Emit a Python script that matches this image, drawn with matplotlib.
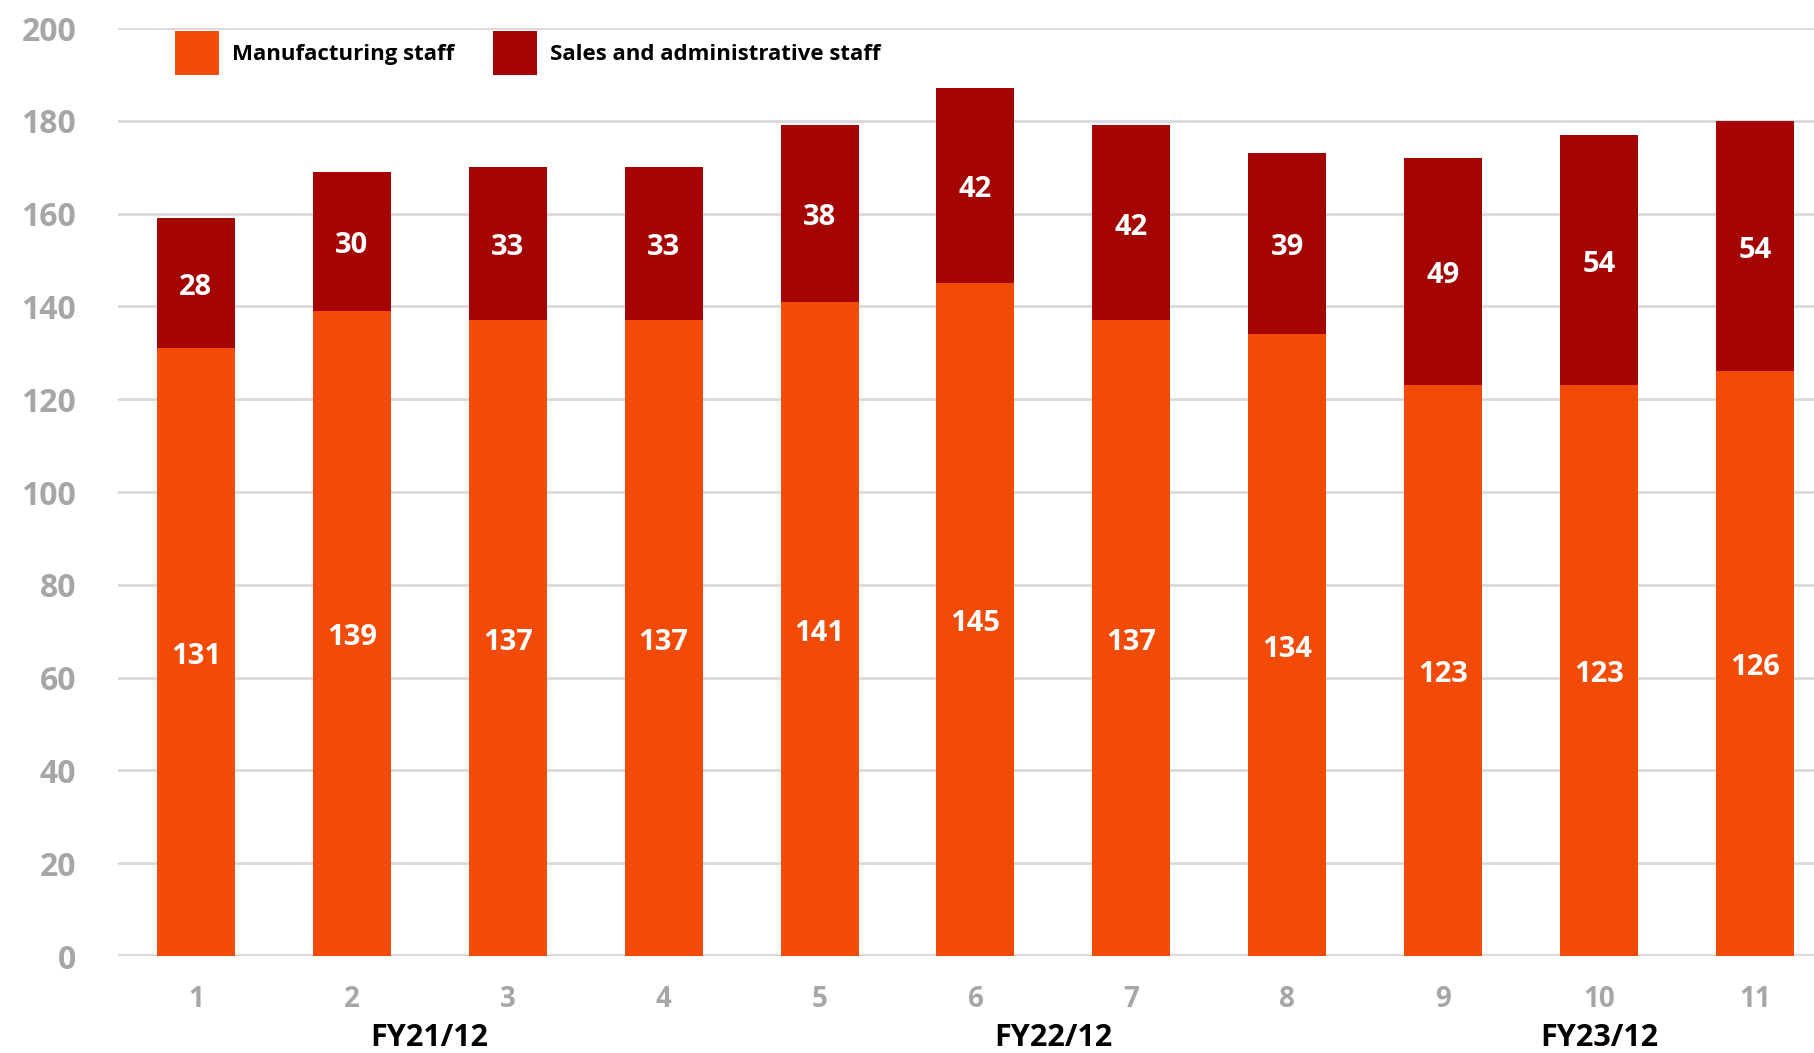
import numpy as np
import matplotlib.pyplot as plt

# Headcount per quarter, split by staff type
quarters = [1, 2, 3, 4, 5, 6, 7, 8, 9, 10, 11]
manufacturing = [131, 139, 137, 137, 141, 145, 137, 134, 123, 123, 126]
sales_admin = [28, 30, 33, 33, 38, 42, 42, 39, 49, 54, 54]
fy_labels = ['FY21/12', 'FY22/12', 'FY23/12']
fy_pos = [2.5, 6.5, 10.0]

c_manu = '#F24A07'
c_sales = '#A50502'
c_tick = '#A6A6A6'

plt.rcParams['font.family'] = ['Open Sans', 'DejaVu Sans']

fig = plt.figure(figsize=(18.14, 10.53), dpi=100)
ax = fig.add_axes([0.065, 0.0921, 0.935, 0.8813])

x = np.array(quarters)
b1 = ax.bar(x, manufacturing, width=0.5, color=c_manu, label='Manufacturing staff', zorder=3)
b2 = ax.bar(x, sales_admin, width=0.5, bottom=manufacturing, color=c_sales,
            label='Sales and administrative staff', zorder=3)

# value labels centred in each segment
for xi, m, s in zip(x, manufacturing, sales_admin):
    for yv, val in [(m / 2, m), (m + s / 2, s)]:
        ax.annotate(str(val), (xi, yv), xytext=(0, -3), textcoords='offset points',
                    ha='center', va='center', color='white',
                    fontsize=21, fontweight='bold', zorder=4)

ax.set_xlim(0.5, 11.378)
ax.set_ylim(0, 200)
ax.set_yticks(np.arange(0, 201, 20))
ax.set_xticks(x)
ax.set_xticklabels([str(q) for q in quarters])
ax.grid(axis='y', color='#D9D9D9', linewidth=2, zorder=0)
ax.axhline(0, color='#D9D9D9', linewidth=3, zorder=2)
for sp in ax.spines.values():
    sp.set_visible(False)
ax.tick_params(axis='y', length=0, pad=30, labelsize=23, labelcolor=c_tick)
ax.tick_params(axis='x', length=0, pad=21, labelsize=20, labelcolor=c_tick)
for lab in ax.get_yticklabels() + ax.get_xticklabels():
    lab.set_fontweight('bold')

for lab, p in zip(fy_labels, fy_pos):
    ax.text(p, -17.7, lab, ha='center', va='center', fontsize=22,
            fontweight='bold', color='black', transform=ax.transData)

leg = fig.legend(handles=[b1, b2], loc='center left', bbox_to_anchor=(0.0965, 0.9497),
                 ncol=2, frameon=False, fontsize=16, handlelength=2.0, handleheight=2.7,
                 handletextpad=0.55, columnspacing=1.75, borderpad=0, borderaxespad=0)
for t in leg.get_texts():
    t.set_fontweight('bold')

fig.savefig('out.png', dpi=100)
